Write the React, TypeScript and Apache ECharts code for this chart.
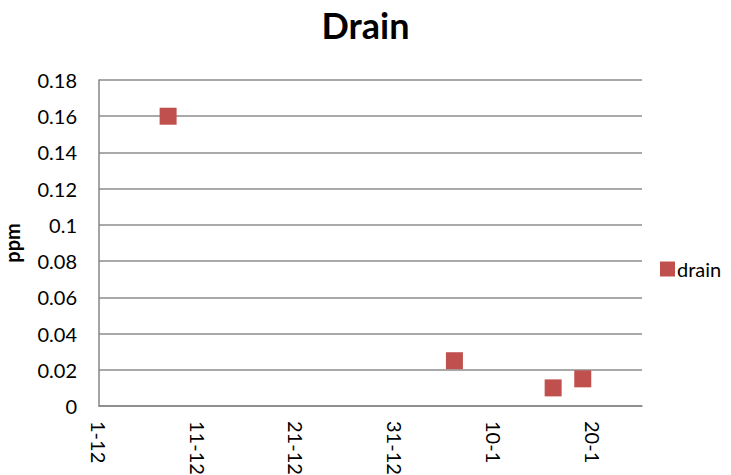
import React, { useEffect, useRef } from "react";
import * as echarts from "echarts";

const seriesName = "drain";
const dates = ["2012-12-08", "2013-01-06", "2013-01-16", "2013-01-19"];
const values = [0.16, 0.025, 0.01, 0.015];
const axisStart = "2012-12-01";
const axisEnd = "2013-01-25";
const tickDays = 10;

const DAY = 86400000;
const toMs = (s: string) => {
  const [y, m, d] = s.split("-").map(Number);
  return Date.UTC(y, m - 1, d);
};
const startMs = toMs(axisStart);
const dayOffset = (s: string) => Math.round((toMs(s) - startMs) / DAY);

export default function App() {
  const ref = useRef<HTMLDivElement>(null);
  useEffect(() => {
    if (!ref.current) return;
    const chart = echarts.init(ref.current, undefined, { renderer: "svg" });
    const font = "Lato, 'Open Sans', sans-serif";
    chart.setOption({
      animation: false,
      backgroundColor: "#ffffff",
      title: {
        text: "Drain",
        left: "center",
        top: 2,
        textStyle: { fontFamily: font, fontWeight: "bold", fontSize: 36, color: "#000" },
      },
      legend: {
        data: [seriesName],
        left: 655,
        top: 254,
        orient: "vertical",
        icon: "rect",
        itemWidth: 15,
        itemHeight: 15,
        itemGap: 4,
        textStyle: { fontFamily: font, fontSize: 20, color: "#000", padding: [0, 0, 0, -3] },
      },
      grid: {
        left: 99,
        right: 89,
        top: 80,
        bottom: 69,
        containLabel: false,
        outerBoundsMode: "none",
      },
      xAxis: {
        type: "value",
        min: 0,
        max: dayOffset(axisEnd),
        interval: tickDays,
        axisLine: { show: true, lineStyle: { color: "#868686", width: 1.5 } },
        axisTick: { show: false },
        splitLine: { show: false },
        axisLabel: {
          rotate: -90,
          margin: 15,
          fontFamily: font,
          fontSize: 20,
          color: "#000",
          showMaxLabel: false,
          formatter: (v: number) => {
            if (v % tickDays !== 0) return "";
            const d = new Date(startMs + v * DAY);
            return `${d.getUTCDate()}-${d.getUTCMonth() + 1}`;
          },
        },
      },
      yAxis: {
        type: "value",
        min: 0,
        max: 0.18,
        interval: 0.02,
        name: "ppm",
        nameLocation: "middle",
        nameGap: 77,
        nameRotate: 90,
        nameTextStyle: { fontFamily: font, fontWeight: "bold", fontSize: 20, color: "#000" },
        axisLine: { show: true, lineStyle: { color: "#868686", width: 1.5 } },
        axisTick: { show: false },
        splitLine: { show: true, lineStyle: { color: "#8c8c8c", width: 1.5 } },
        axisLabel: {
          margin: 22,
          fontFamily: font,
          fontSize: 20,
          color: "#000",
          formatter: (v: number) => String(parseFloat(v.toFixed(4))),
        },
      },
      series: [
        {
          name: seriesName,
          type: "scatter",
          symbol: "rect",
          symbolSize: 17,
          itemStyle: { color: "#C0504D", opacity: 1 },
          data: dates.map((d, i) => [dayOffset(d), values[i]]),
        },
      ],
    });
    return () => chart.dispose();
  }, []);
  return (
    <div
      ref={ref}
      style={{ position: "fixed", left: 0, top: 0, width: 731, height: 475 }}
    />
  );
}
